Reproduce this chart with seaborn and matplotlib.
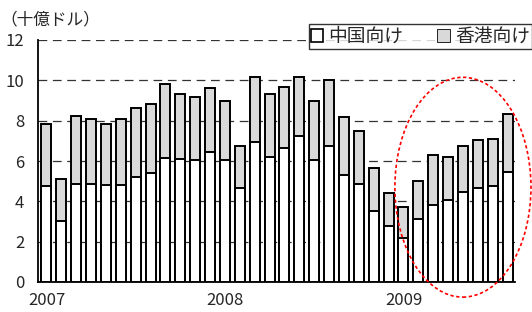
import matplotlib
matplotlib.use("Agg")
import matplotlib.pyplot as plt
import seaborn as sns
import pandas as pd
from matplotlib.patches import Patch, Ellipse

# ---- data (billion USD) ----
months = ["2007-01", "2007-02", "2007-03", "2007-04", "2007-05", "2007-06",
          "2007-07", "2007-08", "2007-09", "2007-10", "2007-11", "2007-12",
          "2008-01", "2008-02", "2008-03", "2008-04", "2008-05", "2008-06",
          "2008-07", "2008-08", "2008-09", "2008-10", "2008-11", "2008-12",
          "2009-01", "2009-02", "2009-03", "2009-04", "2009-05", "2009-06",
          "2009-07", "2009-08"]
china = [4.75, 3.04, 4.85, 4.88, 4.79, 4.82, 5.21, 5.41, 6.16, 6.09, 6.07, 6.45,
         6.04, 4.67, 6.96, 6.20, 6.62, 7.24, 6.06, 6.72, 5.30, 4.88, 3.51, 2.77,
         2.16, 3.14, 3.84, 4.06, 4.47, 4.65, 4.75, 5.46]
hongkong = [3.07, 2.09, 3.38, 3.19, 3.03, 3.25, 3.40, 3.42, 3.64, 3.23, 3.10, 3.19,
            2.94, 2.06, 3.22, 3.14, 3.03, 2.91, 2.90, 3.31, 2.90, 2.60, 2.12, 1.65,
            1.55, 1.89, 2.46, 2.14, 2.28, 2.41, 2.35, 2.86]
year_labels = ["2007", "2008", "2009"]
series_labels = ["中国向け", "香港向け"]
unit_label = "（十億ドル）"

df = pd.DataFrame({"month": months, "china": china, "hk": hongkong})
df["total"] = df["china"] + df["hk"]

sns.set_style("white")
plt.rcParams["font.family"] = ["Noto Sans CJK JP", "DejaVu Sans"]

fig = plt.figure(figsize=(5.32, 3.12), dpi=100)
ax = fig.add_axes([38 / 532, 30 / 312, (515 - 38) / 532, (282 - 40) / 312])

hk_color = "#d9d9d9"
sns.barplot(data=df, x="month", y="total", color=hk_color, edgecolor="black",
            linewidth=1.4, width=0.67, saturation=1, ax=ax, zorder=3)
sns.barplot(data=df, x="month", y="china", color="white", edgecolor="black",
            linewidth=1.4, width=0.67, saturation=1, ax=ax, zorder=4)

ax.set_ylim(0, 12)
ax.set_xlim(-0.57, 31.5)
ax.set_yticks(range(0, 13, 2))
ax.set_xticks([0, 12, 24])
ax.set_xticklabels(year_labels)
ax.set_xticks([-0.5, 11.5, 23.5], minor=True)
ax.tick_params(axis="x", which="major", length=0, pad=7, labelsize=12)
ax.tick_params(axis="x", which="minor", length=5, direction="in", width=1, color="black")
ax.tick_params(axis="y", length=0, pad=10, labelsize=12)
ax.set_xlabel("")
ax.set_ylabel("")

ax.yaxis.grid(True, linestyle=(0, (7, 4.5)), color="#333333", lw=0.9)
ax.set_axisbelow(True)
for s in ["top", "right"]:
    ax.spines[s].set_visible(False)
for s in ["left", "bottom"]:
    ax.spines[s].set_color("black")
    ax.spines[s].set_linewidth(1.3)

ell = Ellipse((28.0, 4.7), 9.15, 10.9, fill=False, edgecolor="red",
              linestyle=(0, (2, 1.5)), lw=1.2, clip_on=False, zorder=6)
ax.add_patch(ell)

fig.text(0.0, 1 - 20 / 312, unit_label, va="center", ha="left", fontsize=12)

handles = [Patch(facecolor="white", edgecolor="black", linewidth=1.2),
           Patch(facecolor=hk_color, edgecolor="black", linewidth=0.6)]
leg = fig.legend(handles, series_labels, loc="upper right",
                 bbox_to_anchor=(1.0, 1 - 24 / 312), bbox_transform=fig.transFigure,
                 ncol=2, frameon=True, fancybox=False, fontsize=13.5,
                 handlelength=0.65, handleheight=0.65, handletextpad=0.3,
                 columnspacing=1.8, borderpad=0.1, borderaxespad=0)
leg.get_frame().set_edgecolor("black")
leg.get_frame().set_linewidth(1.0)

fig.savefig("out.png", dpi=100)
